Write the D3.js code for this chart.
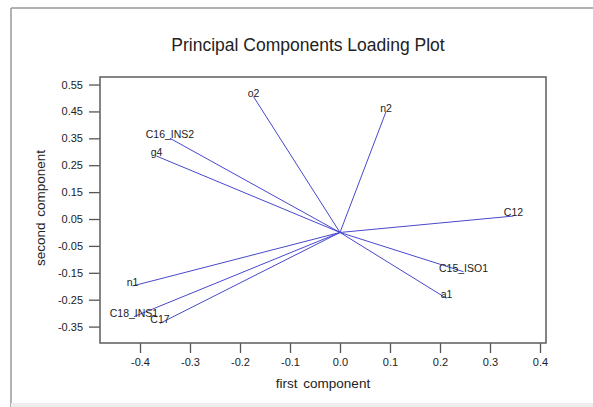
<!DOCTYPE html>
<html>
<head>
<meta charset="utf-8">
<script src="https://cdn.jsdelivr.net/npm/d3@7"></script>
<style>
  body { margin: 0; background: #fff; }
  text { font-family: Arial, "Liberation Sans", sans-serif; fill: #222; }
</style>
</head>
<body>
<svg id="chart" width="593" height="407"></svg>
<script>
// loadings
var names = ["o2", "n2", "C16_INS2", "g4", "C12", "n1", "C15_ISO1", "a1", "C18_INS1", "C17"];
var comp1 = [-0.173, 0.092, -0.34, -0.367, 0.347, -0.415, 0.247, 0.213, -0.412, -0.36];
var comp2 = [0.505, 0.449, 0.35, 0.284, 0.061, -0.199, -0.146, -0.245, -0.313, -0.338];
var xTicks = [-0.4, -0.3, -0.2, -0.1, 0.0, 0.1, 0.2, 0.3, 0.4];
var yTicks = [0.55, 0.45, 0.35, 0.25, 0.15, 0.05, -0.05, -0.15, -0.25, -0.35];

var svg = d3.select("svg#chart");

var x = d3.scaleLinear().domain([-0.48, 0.412]).range([100, 546]);
var y = d3.scaleLinear().domain([-0.411, 0.578]).range([343, 77]);

function fmt(f){
  return function(d){ return d3.format(f)(d).replace("\u2212", "-"); };
}

// outer frame
svg.append("line").attr("x1", 11).attr("y1", 8).attr("x2", 593).attr("y2", 8)
  .attr("stroke", "#999").attr("stroke-width", 1.5);
svg.append("line").attr("x1", 11).attr("y1", 8).attr("x2", 11).attr("y2", 407)
  .attr("stroke", "#999").attr("stroke-width", 1.5);
svg.append("rect").attr("x", 11).attr("y", 403).attr("width", 582).attr("height", 4)
  .attr("fill", "#eee");

// title
svg.append("text")
  .attr("x", 308).attr("y", 51)
  .attr("text-anchor", "middle")
  .attr("font-size", 17.5)
  .text("Principal Components Loading Plot");

// axes
var xAxis = svg.append("g")
  .attr("transform", "translate(0,343)")
  .call(d3.axisBottom(x).tickValues(xTicks).tickSize(10).tickPadding(5).tickFormat(fmt(".1f")));
var yAxis = svg.append("g")
  .attr("transform", "translate(100,0)")
  .call(d3.axisLeft(y).tickValues(yTicks).tickSize(11).tickPadding(6).tickFormat(fmt(".2f")));

[xAxis, yAxis].forEach(function(a){
  a.select(".domain").remove();
  a.selectAll(".tick line").attr("stroke", "#555").attr("stroke-width", 1.3);
  a.selectAll(".tick text").attr("font-size", 11).attr("fill", "#333")
    .style("font-family", "Arial, 'Liberation Sans', sans-serif");
});

// plot box
svg.append("rect")
  .attr("x", 100).attr("y", 77)
  .attr("width", 446).attr("height", 266)
  .attr("fill", "none")
  .attr("stroke", "#666")
  .attr("stroke-width", 1.6);

// axis labels
svg.append("text")
  .attr("x", 323).attr("y", 388)
  .attr("text-anchor", "middle")
  .attr("font-size", 13.5)
  .attr("word-spacing", 2)
  .text("first component");
svg.append("text")
  .attr("transform", "translate(45,208) rotate(-90)")
  .attr("text-anchor", "middle")
  .attr("font-size", 13.5)
  .attr("word-spacing", 2)
  .text("second component");

// loading vectors
var pts = names.map(function(n, i){ return {name: n, a: comp1[i], b: comp2[i]}; });

svg.selectAll("line.vec")
  .data(pts).enter()
  .append("line")
  .attr("class", "vec")
  .attr("x1", x(0)).attr("y1", y(0))
  .attr("x2", function(d){ return x(d.a); })
  .attr("y2", function(d){ return y(d.b); })
  .attr("stroke", "#4848cc")
  .attr("stroke-width", 1);

svg.selectAll("text.lab")
  .data(pts).enter()
  .append("text")
  .attr("class", "lab")
  .attr("x", function(d){ return x(d.a); })
  .attr("y", function(d){ return y(d.b); })
  .attr("text-anchor", "middle")
  .attr("font-size", 10.5)
  .attr("fill", "#222")
  .text(function(d){ return d.name; });
</script>
</body>
</html>
